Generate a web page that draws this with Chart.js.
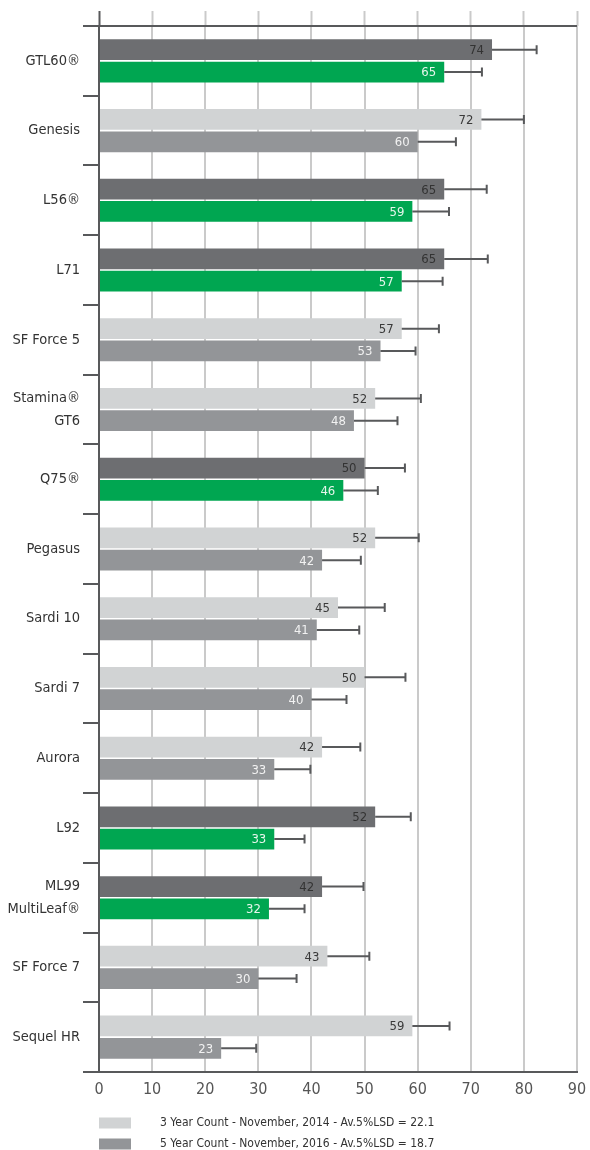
<!DOCTYPE html>
<html>
<head>
<meta charset="utf-8">
<script src="https://cdn.jsdelivr.net/npm/chart.js"></script>
<style>
  html, body { margin: 0; padding: 0; background: #fff; }
  canvas { display: block; }
</style>
</head>
<body>
<canvas id="chart" width="590" height="1150"></canvas>
<script>
// datos
const varieties = ['GTL60®', 'Genesis', 'L56®', 'L71', 'SF Force 5', ['Stamina®', 'GT6'], 'Q75®', 'Pegasus',
  'Sardi 10', 'Sardi 7', 'Aurora', 'L92', ['ML99', 'MultiLeaf®'], 'SF Force 7', 'Sequel HR'];
const threeYear = [74, 72, 65, 65, 57, 52, 50, 52, 45, 50, 42, 52, 42, 43, 59];
const fiveYear = [65, 60, 59, 57, 53, 48, 46, 42, 41, 40, 33, 33, 32, 30, 23];
const threeYearErr = [82.4, 80, 73, 73.2, 64, 60.6, 57.6, 60.2, 53.8, 57.7, 49.2, 58.7, 49.8, 50.9, 66];
const fiveYearErr = [72.1, 67.2, 65.9, 64.7, 59.6, 56.2, 52.5, 49.3, 49, 46.6, 39.8, 38.7, 38.7, 37.2, 29.6];
// filas destacadas (gris oscuro + verde)
const highlighted = [true, false, true, true, false, false, true, false, false, false, false, true, true, false, false];
const xTicks = [0, 10, 20, 30, 40, 50, 60, 70, 80, 90];
const legendLabels = ['3 Year Count - November, 2014 - Av.5%LSD = 22.1', '5 Year Count - November, 2016 - Av.5%LSD = 18.7'];

const NARROW = "'Liberation Sans Narrow', 'DejaVu Sans Condensed', sans-serif";
const DARK = '#6d6e71', GREEN = '#00a651', LIGHT = '#d1d3d4', MID = '#939598';
const AXIS = '#58595b', GRID = '#cacaca';

const errors = [threeYearErr, fiveYearErr];
const labelColors = [
  highlighted.map(h => h ? '#333333' : '#3a3a3a'),
  highlighted.map(h => h ? '#e6f6ec' : '#f2f2f2')
];

// barras de error + valores
const barExtras = {
  id: 'barExtras',
  afterDatasetsDraw(chart) {
    const ctx = chart.ctx;
    const x = chart.scales.x;
    chart.data.datasets.forEach((ds, di) => {
      const meta = chart.getDatasetMeta(di);
      meta.data.forEach((bar, i) => {
        const xe = x.getPixelForValue(errors[di][i]);
        ctx.save();
        ctx.strokeStyle = AXIS;
        ctx.lineWidth = 2;
        ctx.beginPath();
        ctx.moveTo(bar.x, bar.y);
        ctx.lineTo(xe, bar.y);
        ctx.moveTo(xe, bar.y - 4.5);
        ctx.lineTo(xe, bar.y + 4.5);
        ctx.stroke();
        ctx.fillStyle = labelColors[di][i];
        ctx.font = '13px ' + NARROW;
        ctx.textAlign = 'right';
        ctx.textBaseline = 'middle';
        ctx.fillText(ds.data[i], bar.x - 8, bar.y + 1);
        ctx.restore();
      });
    });
  }
};

// leyenda propia (solo las dos series grises)
const customLegend = {
  id: 'customLegend',
  afterDraw(chart) {
    const ctx = chart.ctx;
    const left = chart.chartArea.left;
    const base = chart.chartArea.bottom;
    const colors = [LIGHT, MID];
    legendLabels.forEach((txt, i) => {
      const y = base + 51 + i * 21;
      ctx.save();
      ctx.fillStyle = colors[i];
      ctx.fillRect(left, y - 5.5, 32, 11);
      ctx.fillStyle = '#333333';
      ctx.font = '12px ' + NARROW;
      ctx.textAlign = 'left';
      ctx.textBaseline = 'middle';
      ctx.fillText(txt, left + 61, y);
      ctx.restore();
    });
  }
};

new Chart(document.getElementById('chart'), {
  type: 'bar',
  data: {
    labels: varieties,
    datasets: [
      {
        label: legendLabels[0],
        data: threeYear,
        backgroundColor: highlighted.map(h => h ? DARK : LIGHT),
        categoryPercentage: 0.64,
        barPercentage: 0.93
      },
      {
        label: legendLabels[1],
        data: fiveYear,
        backgroundColor: highlighted.map(h => h ? GREEN : MID),
        categoryPercentage: 0.64,
        barPercentage: 0.93
      }
    ]
  },
  options: {
    indexAxis: 'y',
    responsive: false,
    animation: false,
    layout: { padding: { top: 11, right: 13, bottom: 48, left: 0 } },
    plugins: {
      legend: { display: false },
      tooltip: { enabled: false }
    },
    scales: {
      x: {
        type: 'linear',
        position: 'bottom',
        min: 0,
        max: 90,
        afterBuildTicks: (s) => { s.ticks = xTicks.map(v => ({ value: v })); },
        afterFit: (s) => { s.height = 30; s.paddingLeft = 0; s.paddingRight = 0; },
        grid: { color: GRID, lineWidth: 2, drawTicks: false },
        border: { color: AXIS, width: 2 },
        ticks: { color: '#555555', padding: 8, font: { family: NARROW, size: 16 } }
      },
      x2: {
        type: 'linear',
        position: 'top',
        min: 0,
        max: 90,
        afterBuildTicks: (s) => { s.ticks = xTicks.map(v => ({ value: v })); },
        afterFit: (s) => { s.height = 15; s.paddingLeft = 0; s.paddingRight = 0; },
        grid: {
          drawOnChartArea: false,
          drawTicks: true,
          tickLength: 15,
          tickWidth: 2,
          tickColor: (c) => (c.tick && c.tick.value === 0) ? AXIS : GRID
        },
        border: { display: false },
        ticks: { display: false }
      },
      y: {
        type: 'category',
        afterFit: (s) => { s.width = 99; },
        grid: {
          offset: true,
          drawOnChartArea: true,
          drawTicks: true,
          tickLength: 16,
          lineWidth: 2,
          tickWidth: 2,
          tickColor: AXIS,
          color: (c) => (c.index === 0 || c.type === 'scale') ? AXIS : 'rgba(0,0,0,0)'
        },
        border: { color: AXIS, width: 2 },
        ticks: { color: '#333333', padding: 3, font: { family: NARROW, size: 14.5, lineHeight: 1.55 } }
      }
    }
  },
  plugins: [barExtras, customLegend]
});
</script>
</body>
</html>
